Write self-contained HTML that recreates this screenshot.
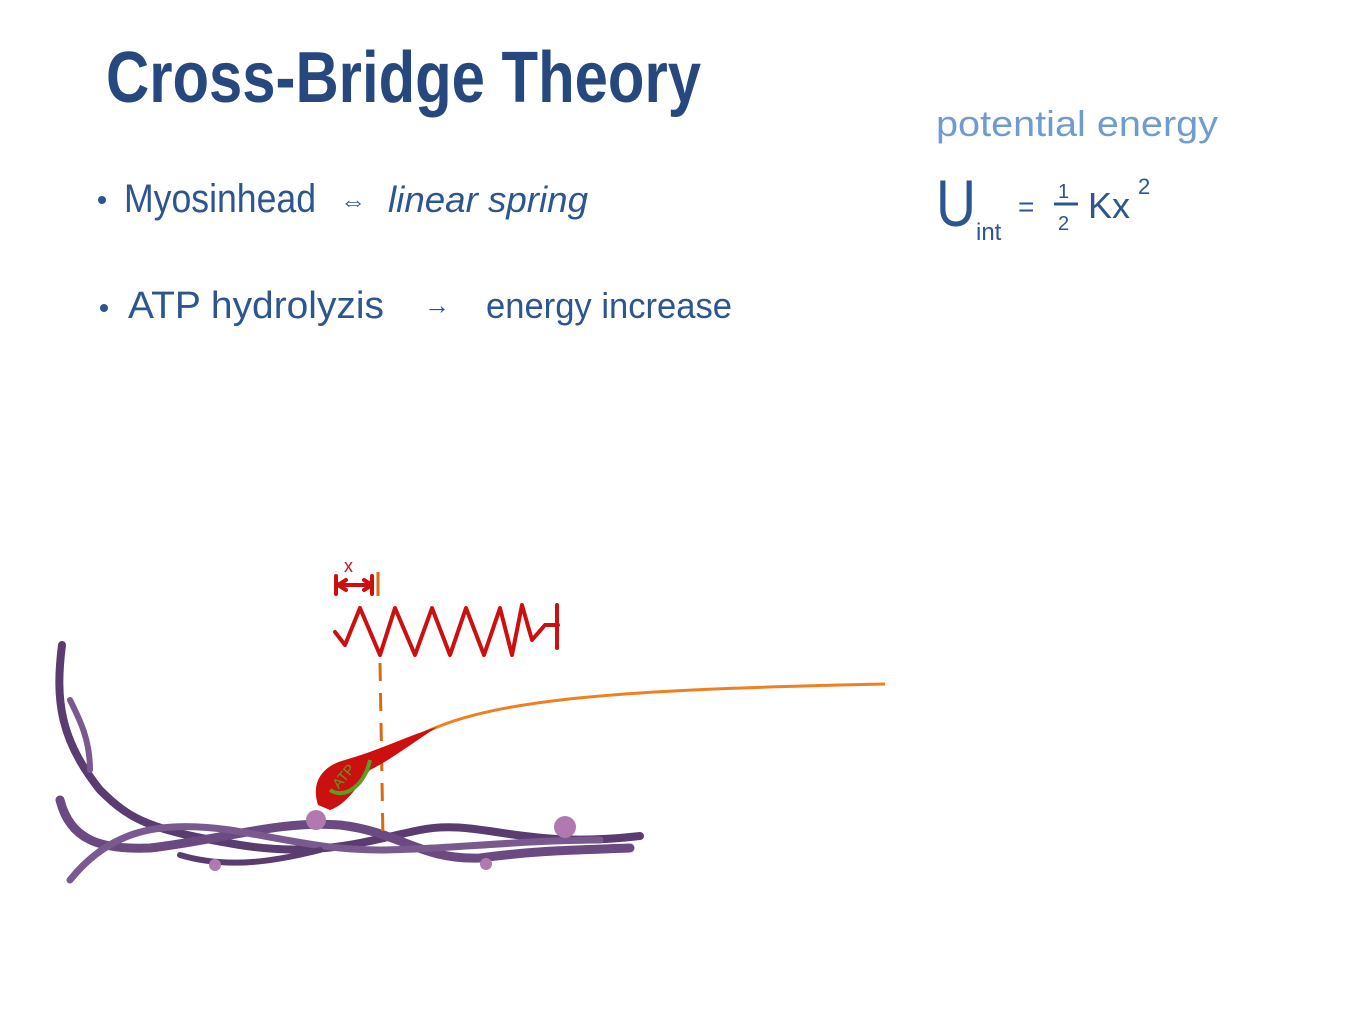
<!DOCTYPE html>
<html><head><meta charset="utf-8"><style>
html,body{margin:0;padding:0;background:#fff;width:1366px;height:1024px;overflow:hidden}
svg{position:absolute;left:0;top:0}
text{font-family:"Liberation Sans",sans-serif}
</style></head><body>
<svg width="1366" height="1024" viewBox="0 0 1366 1024">
<text x="106" y="102" font-size="72" fill="#26487e" font-weight="bold" textLength="595" lengthAdjust="spacingAndGlyphs">Cross-Bridge Theory</text>
<circle cx="102" cy="200" r="4" fill="#2d5590"/>
<text x="124" y="212" font-size="40" fill="#2d5590" textLength="192" lengthAdjust="spacingAndGlyphs">Myosinhead</text>
<text x="340" y="210" font-size="26" fill="#2d5590">⇔</text>
<text x="388" y="212" font-size="36" fill="#2d5590" font-style="italic" textLength="200" lengthAdjust="spacingAndGlyphs">linear  spring</text>
<circle cx="104" cy="308" r="4" fill="#2d5590"/>
<text x="128" y="318" font-size="38" fill="#2d5590" textLength="256" lengthAdjust="spacingAndGlyphs">ATP hydrolyzis</text>
<text x="424" y="314" font-size="26" fill="#2d5590">→</text>
<text x="486" y="318" font-size="36" fill="#2d5590" textLength="246" lengthAdjust="spacingAndGlyphs">energy  increase</text>
<text x="936" y="136" font-size="36" fill="#6f9bd0" textLength="282" lengthAdjust="spacingAndGlyphs">potential  energy</text>
<text x="936" y="226" font-size="66" fill="#2d5590" textLength="40" lengthAdjust="spacingAndGlyphs">U</text>
<text x="976" y="240" font-size="24" fill="#2d5590">int</text>
<text x="1018" y="216" font-size="28" fill="#2d5590">=</text>
<text x="1058" y="198" font-size="20" fill="#2d5590">1</text>
<line x1="1054" y1="204" x2="1078" y2="204" stroke="#2d5590" stroke-width="3"/>
<text x="1058" y="230" font-size="20" fill="#2d5590">2</text>
<text x="1088" y="218" font-size="36" fill="#2d5590">Kx</text>
<text x="1138" y="194" font-size="22" fill="#2d5590">2</text>
<g fill="none" stroke-linecap="round">
<path d="M62 645 C55 700,60 740,100 790 C130 820,150 830,240 845 C320 858,370 840,420 830 C480 818,520 850,640 836" stroke="#5a3c70" stroke-width="8"/>
<path d="M60 800 C70 840,100 850,150 848 C220 840,280 820,340 825 C400 832,420 860,480 858 C540 850,580 850,630 848" stroke="#6a4a80" stroke-width="9"/>
<path d="M70 880 C110 830,160 820,230 830 C300 842,330 850,380 850 C440 850,520 840,600 840" stroke="#7a5a8e" stroke-width="7"/>
<path d="M70 700 C80 720,90 740,90 770" stroke="#7a5a8e" stroke-width="6"/>
<path d="M180 855 C230 870,280 860,320 850" stroke="#5a3c70" stroke-width="6"/>
</g>
<circle cx="316" cy="820" r="10" fill="#b07ab0"/>
<circle cx="565" cy="827" r="11" fill="#b07ab0"/>
<circle cx="215" cy="865" r="6" fill="#b07ab0"/>
<circle cx="486" cy="864" r="6" fill="#b07ab0"/>
<path d="M410 740 C480 700,600 690,885 684" fill="none" stroke="#ee8020" stroke-width="3"/>
<path d="M380 663 L383 840" stroke="#d86a10" stroke-width="3" stroke-dasharray="18 12" fill="none"/>
<line x1="378" y1="572" x2="378" y2="596" stroke="#e06a10" stroke-width="3"/>
<g stroke="#cc1010" stroke-width="4" fill="none" stroke-linecap="round" stroke-linejoin="round">
<path d="M335 632 L345 645 L360 608 L380 655 L395 608 L415 655 L432 608 L450 655 L466 608 L484 655 L500 608 L512 655 L522 605 L532 640 L545 625 L558 625"/>
<line x1="557" y1="605" x2="557" y2="648"/>
<line x1="336" y1="576" x2="336" y2="594"/><line x1="372" y1="576" x2="372" y2="594"/>
<path d="M338 585 L372 585 M338 585 l8 -5 M338 585 l8 5 M372 585 l-8 -5 M372 585 l-8 5"/>
</g>
<text x="344" y="572" font-size="18" fill="#cc1010">x</text>
<path d="M318 805 C310 780,325 765,345 760 C380 750,410 735,437 727 C410 745,390 760,370 770 C355 790,345 805,330 810 Z" fill="#cc1010"/>
<path d="M330 790 C345 800,365 785,370 760" stroke="#5aa020" stroke-width="4" fill="none"/>
<text x="332" y="785" font-size="14" fill="#5aa020" transform="rotate(-50 340 780)">ATP</text>
</svg>
</body></html>
